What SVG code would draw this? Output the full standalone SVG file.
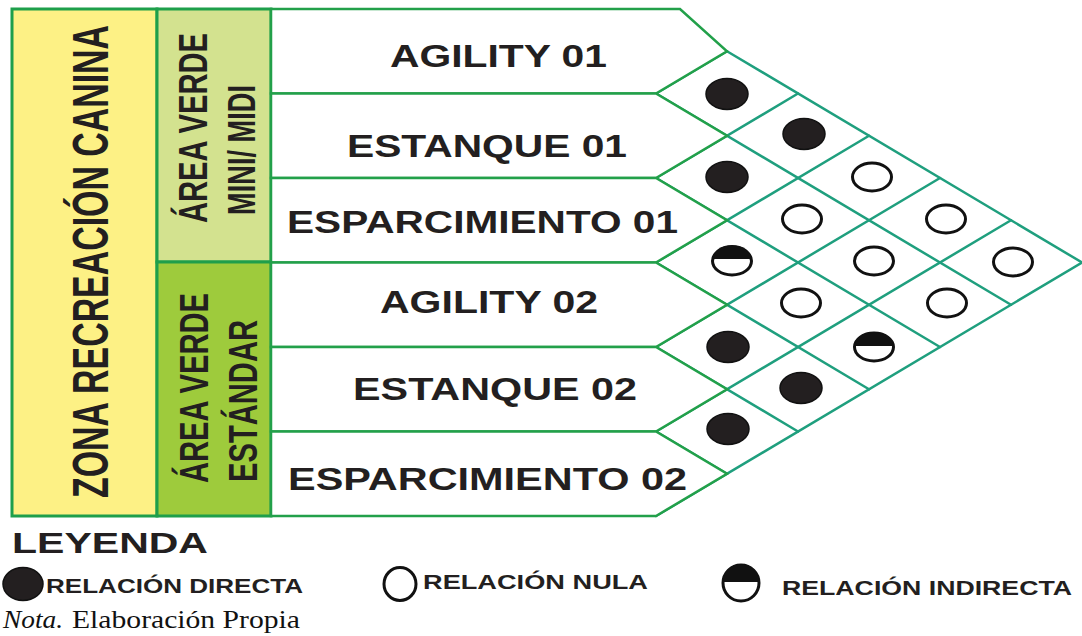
<svg xmlns="http://www.w3.org/2000/svg" width="1082" height="636" viewBox="0 0 1082 636">
<defs>
<style>
.bx{stroke:#1e9f4b;stroke-width:3;stroke-linejoin:miter}
.row{fill:#ffffff;stroke:#22a04a;stroke-width:2.5;stroke-linejoin:miter}
.grid line{stroke:#1f9f7e;stroke-width:2.5;stroke-linecap:round}
.lbl{font-family:"Liberation Sans",Arial,sans-serif;font-weight:bold;fill:#231f20}
.rt{font-size:32px}
.lg{font-size:21px}
.full{fill:#231f20;stroke:#111;stroke-width:1.5}
.open{fill:#ffffff;stroke:#111;stroke-width:3}
.half{fill:#ffffff;stroke:#111;stroke-width:3}
.halftop{fill:#111}
.nota{font-family:"Liberation Serif","Times New Roman",serif;font-size:26px;fill:#111}
</style>
</defs>
<rect width="1082" height="636" fill="#ffffff"/>

<g id="zona-recreacion-canina">
<rect class="bx" x="12" y="9" width="145" height="507" fill="#fdf185"/>
<text class="lbl" font-size="34" transform="translate(108,498) rotate(-90) scale(1,1.48)" textLength="473" lengthAdjust="spacingAndGlyphs">ZONA RECREACIÓN CANINA</text>
</g>

<g id="area-verde-mini-midi">
<rect class="bx" x="157" y="9" width="114" height="253" fill="#d3e28f"/>
<text class="lbl" font-size="29" transform="translate(207,223) rotate(-90) scale(1,1.37)" textLength="190" lengthAdjust="spacingAndGlyphs">ÁREA VERDE</text>
<text class="lbl" font-size="27" transform="translate(255,215) rotate(-90) scale(1,1.47)" textLength="130" lengthAdjust="spacingAndGlyphs">MINI/ MIDI</text>
</g>

<g id="area-verde-estandar">
<rect class="bx" x="157" y="262" width="114" height="254" fill="#9ecb3c"/>
<text class="lbl" font-size="29" transform="translate(208,483) rotate(-90) scale(1,1.37)" textLength="190" lengthAdjust="spacingAndGlyphs">ÁREA VERDE</text>
<text class="lbl" font-size="29" transform="translate(257,482) rotate(-90) scale(1,1.37)" textLength="162" lengthAdjust="spacingAndGlyphs">ESTÁNDAR</text>
</g>

<g id="connectors" class="grid">
<line x1="727" y1="51.25" x2="1082" y2="262.5"/>
<line x1="656" y1="93.5" x2="1011" y2="304.75"/>
<line x1="656" y1="178" x2="940" y2="347"/>
<line x1="656" y1="262.5" x2="869" y2="389.25"/>
<line x1="656" y1="347" x2="798" y2="431.5"/>
<line x1="656" y1="431.5" x2="727" y2="473.75"/>
<line x1="656" y1="516" x2="1082" y2="262.5"/>
<line x1="656" y1="431.5" x2="1011" y2="220.25"/>
<line x1="656" y1="347" x2="940" y2="178"/>
<line x1="656" y1="262.5" x2="869" y2="135.75"/>
<line x1="656" y1="178" x2="798" y2="93.5"/>
<line x1="656" y1="93.5" x2="727" y2="51.25"/>
</g>

<g id="row-agility-01">
<polygon class="row" points="271,9 680,9 727,51.25 656,93.5 271,93.5"/>
<text class="lbl rt" x="390" y="67" textLength="217" lengthAdjust="spacingAndGlyphs">AGILITY 01</text>
</g>
<g id="row-estanque-01">
<polygon class="row" points="271,93.5 656,93.5 727,135.75 656,178 271,178"/>
<text class="lbl rt" x="347" y="157" textLength="280" lengthAdjust="spacingAndGlyphs">ESTANQUE 01</text>
</g>
<g id="row-esparcimiento-01">
<polygon class="row" points="271,178 656,178 727,220.25 656,262.5 271,262.5"/>
<text class="lbl rt" x="287" y="233" textLength="391" lengthAdjust="spacingAndGlyphs">ESPARCIMIENTO 01</text>
</g>
<g id="row-agility-02">
<polygon class="row" points="271,262.5 656,262.5 727,304.75 656,347 271,347"/>
<text class="lbl rt" x="380" y="313" textLength="218" lengthAdjust="spacingAndGlyphs">AGILITY 02</text>
</g>
<g id="row-estanque-02">
<polygon class="row" points="271,347 656,347 727,389.25 656,431.5 271,431.5"/>
<text class="lbl rt" x="353" y="400" textLength="284" lengthAdjust="spacingAndGlyphs">ESTANQUE 02</text>
</g>
<g id="row-esparcimiento-02">
<polygon class="row" points="271,431.5 656,431.5 727,473.75 656,516 271,516"/>
<text class="lbl rt" x="288" y="490" textLength="399" lengthAdjust="spacingAndGlyphs">ESPARCIMIENTO 02</text>
</g>

<g id="relations">
<ellipse id="r1" class="full" cx="727" cy="94" rx="21" ry="15.5"/>
<ellipse id="r2" class="full" cx="804" cy="134" rx="21" ry="15.5"/>
<ellipse id="r3" class="full" cx="727" cy="177" rx="21" ry="15.5"/>
<ellipse id="r4" class="open" cx="872" cy="177" rx="19.5" ry="14"/>
<ellipse id="r5" class="open" cx="802" cy="219" rx="19.5" ry="14"/>
<ellipse id="r6" class="open" cx="946" cy="219" rx="19.5" ry="14"/>
<g id="r7"><ellipse class="half" cx="732" cy="261" rx="19.5" ry="14"/><path class="halftop" d="M712.5,259 A19.5,14 0 0 1 751.5,259 Z"/></g>
<ellipse id="r8" class="open" cx="874" cy="261" rx="19.5" ry="14"/>
<ellipse id="r9" class="open" cx="1013" cy="262" rx="19.5" ry="14"/>
<ellipse id="r10" class="open" cx="801" cy="303" rx="19.5" ry="14"/>
<ellipse id="r11" class="open" cx="947" cy="303" rx="19.5" ry="14"/>
<ellipse id="r12" class="full" cx="728" cy="347" rx="21" ry="15.5"/>
<g id="r13"><ellipse class="half" cx="874" cy="347" rx="19.5" ry="14"/><path class="halftop" d="M854.5,346 A19.5,14 0 0 1 893.5,346 Z"/></g>
<ellipse id="r14" class="full" cx="801" cy="388" rx="21" ry="15.5"/>
<ellipse id="r15" class="full" cx="728" cy="429" rx="21" ry="15.5"/>
</g>

<g id="legend">
<text class="lbl" x="12" y="553" font-size="29" textLength="196" lengthAdjust="spacingAndGlyphs">LEYENDA</text>
<g id="legend-directa">
<ellipse class="full" cx="23" cy="584" rx="20" ry="16.5"/>
<text class="lbl lg" x="46" y="593" textLength="257" lengthAdjust="spacingAndGlyphs">RELACIÓN DIRECTA</text>
</g>
<g id="legend-nula">
<ellipse class="open" cx="400" cy="584" rx="16" ry="16.5"/>
<text class="lbl lg" x="423" y="589" textLength="225" lengthAdjust="spacingAndGlyphs">RELACIÓN NULA</text>
</g>
<g id="legend-indirecta">
<ellipse class="half" cx="741" cy="583" rx="18" ry="18"/>
<path class="halftop" d="M723,582 A18,18 0 0 1 759,582 Z"/>
<text class="lbl lg" x="782" y="595" textLength="290" lengthAdjust="spacingAndGlyphs">RELACIÓN INDIRECTA</text>
</g>
</g>

<g id="nota">
<text class="nota" x="3" y="628" font-style="italic" textLength="60" lengthAdjust="spacingAndGlyphs">Nota.</text>
<text class="nota" x="72" y="628" textLength="228" lengthAdjust="spacingAndGlyphs">Elaboración Propia</text>
</g>
</svg>
